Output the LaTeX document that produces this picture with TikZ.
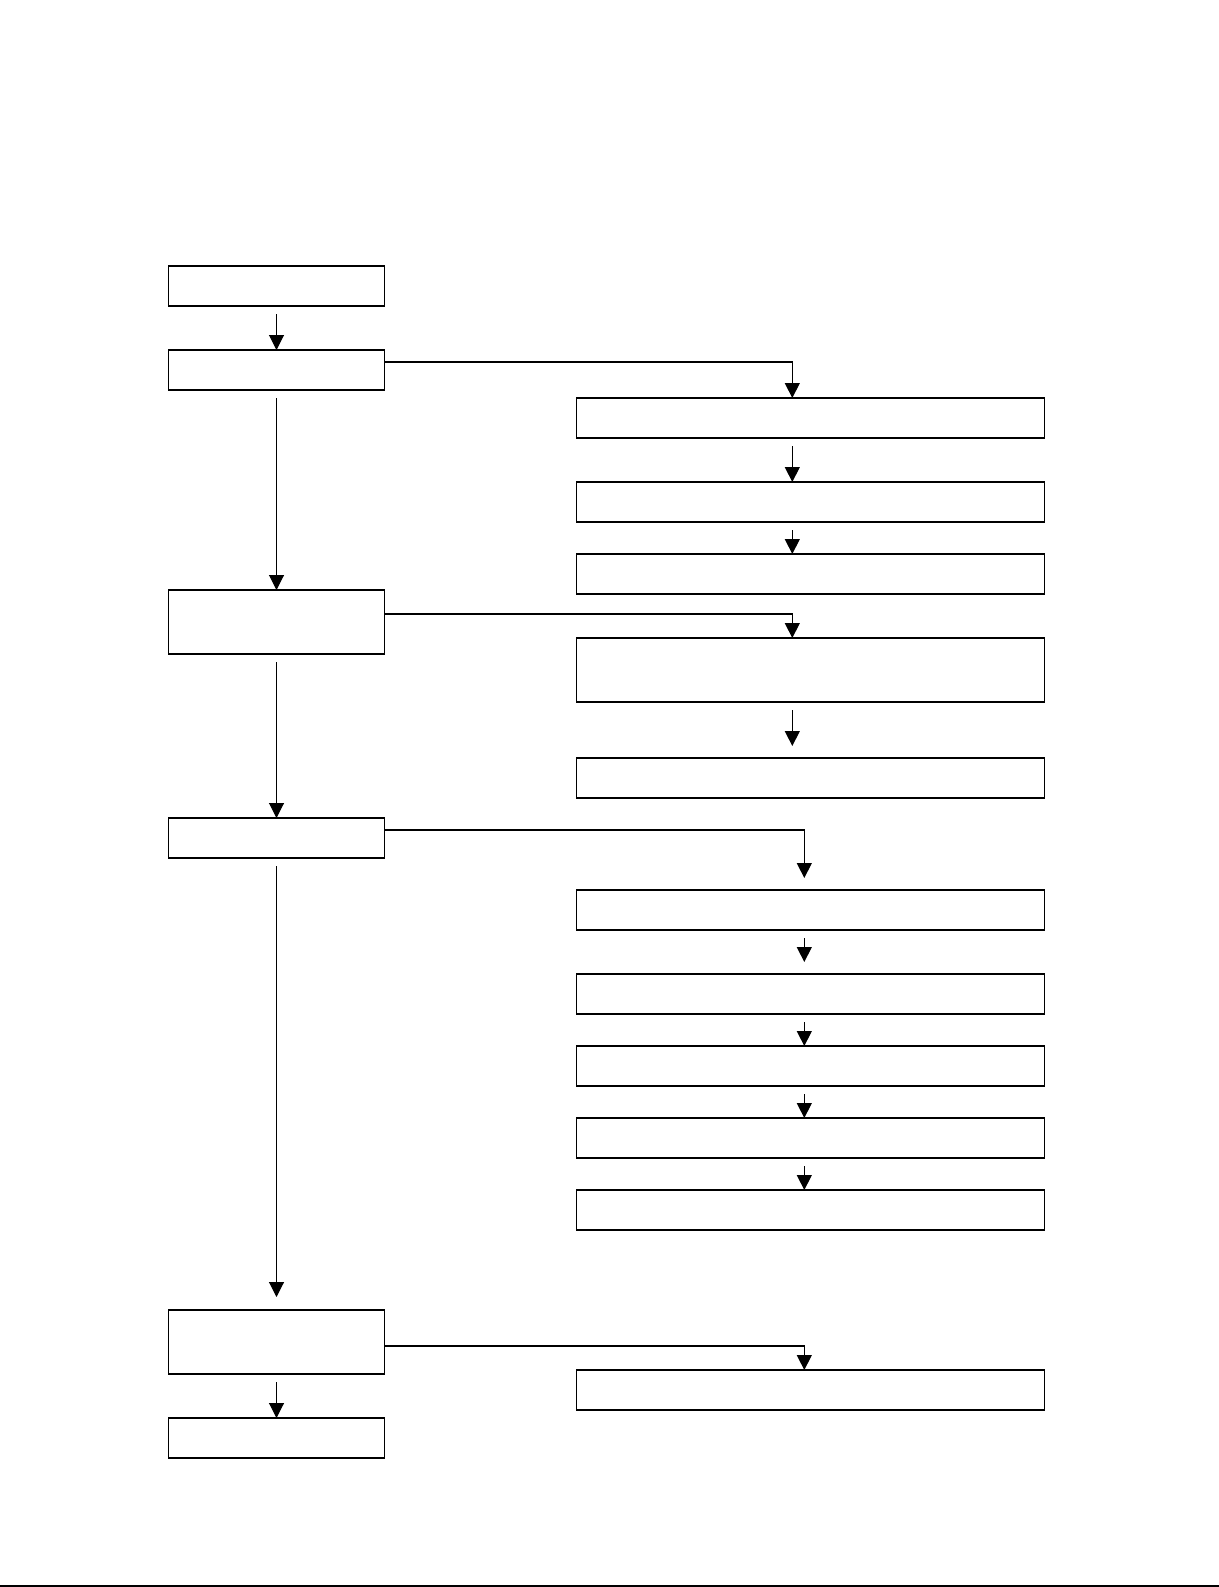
\documentclass[tikz,border=0pt]{standalone}
\usetikzlibrary{arrows.meta,calc}
\begin{document}
\begin{tikzpicture}[x=0.75pt,y=-0.75pt,
  box/.style={draw,line width=0.8pt,rectangle,inner sep=0pt,outer sep=0pt,fill=white},
  lbox/.style={box,minimum width=162.3pt,minimum height=30pt},
  ltall/.style={box,minimum width=162.3pt,minimum height=48pt},
  rbox/.style={box,minimum width=351pt,minimum height=30pt},
  rtall/.style={box,minimum width=351pt,minimum height=48pt},
  arr/.style={line width=0.8pt,-{Triangle[width=11.25pt,length=11.25pt]}}]
\useasboundingbox (0,0) rectangle (1219,1587);
% left column
\node[lbox]  (L1) at (276.5,286) {};
\node[lbox]  (L2) at (276.5,370) {};
\node[ltall] (L3) at (276.5,622) {};
\node[lbox]  (L4) at (276.5,838) {};
\node[ltall] (L5) at (276.5,1342) {};
\node[lbox]  (L6) at (276.5,1438) {};
% right column
\node[rbox]  (R1)  at (810.4,418) {};
\node[rbox]  (R2)  at (810.4,502) {};
\node[rbox]  (R3)  at (810.4,574) {};
\node[rtall] (R4)  at (810.4,670) {};
\node[rbox]  (R5)  at (810.4,778) {};
\node[rbox]  (R6)  at (810.4,910) {};
\node[rbox]  (R7)  at (810.4,994) {};
\node[rbox]  (R8)  at (810.4,1066) {};
\node[rbox]  (R9)  at (810.4,1138) {};
\node[rbox]  (R10) at (810.4,1210) {};
\node[rbox]  (R11) at (810.4,1390) {};
\coordinate (xa) at (792.3,0);
\coordinate (xb) at (804.3,0);
% left column arrows
\draw[arr] ($(L1.south)+(0,8)$) -- (L2.north);
\draw[arr] ($(L2.south)+(0,8)$) -- (L3.north);
\draw[arr] ($(L3.south)+(0,8)$) -- (L4.north);
\draw[arr] ($(L4.south)+(0,8)$) -- ($(L5.north)+(0,-13)$);
\draw[arr] ($(L5.south)+(0,8)$) -- (L6.north);
% branches
\draw[arr] ($(L2.east)+(0,-8)$) -| (xa |- R1.north);
\draw[arr] (xa |- {$(R1.south)+(0,8)$}) -- (xa |- R2.north);
\draw[arr] (xa |- {$(R2.south)+(0,8)$}) -- (xa |- R3.north);
\draw[arr] ($(L3.east)+(0,-8)$) -| (xa |- R4.north);
\draw[arr] (xa |- {$(R4.south)+(0,8)$}) -- (xa |- {$(R5.north)+(0,-12)$});
\draw[arr] ($(L4.east)+(0,-8)$) -| (xb |- {$(R6.north)+(0,-12)$});
\draw[arr] (xb |- {$(R6.south)+(0,8)$}) -- (xb |- {$(R7.north)+(0,-12)$});
\draw[arr] (xb |- {$(R7.south)+(0,8)$}) -- (xb |- R8.north);
\draw[arr] (xb |- {$(R8.south)+(0,8)$}) -- (xb |- R9.north);
\draw[arr] (xb |- {$(R9.south)+(0,8)$}) -- (xb |- R10.north);
\draw[arr] ($(L5.east)+(0,4)$) -| (xb |- R11.north);
% bottom edge line
\draw[line width=0.9pt] (0,1586) -- (1219,1586);
\end{tikzpicture}
\end{document}
